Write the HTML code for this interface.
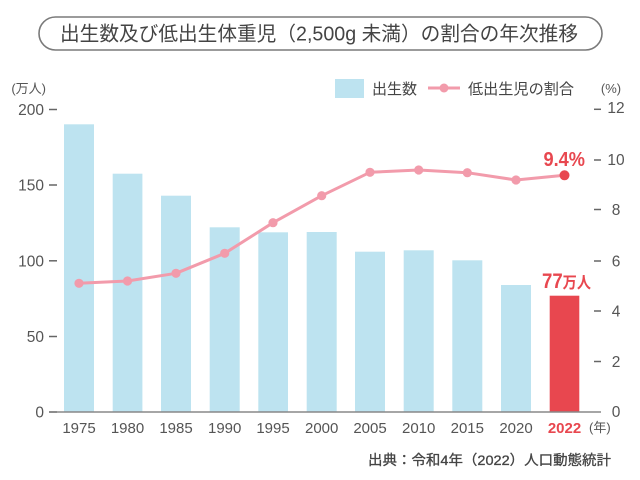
<!DOCTYPE html>
<html><head><meta charset="utf-8"><style>
html,body{margin:0;padding:0;background:#fff;}
svg{display:block;}
text{font-family:"Liberation Sans","Noto Sans CJK JP",sans-serif;}
</style></head><body>
<svg width="640" height="480" viewBox="0 0 640 480" xmlns="http://www.w3.org/2000/svg">
<rect x="0" y="0" width="640" height="480" fill="#fff"/>
<!-- title -->
<rect x="39" y="17" width="563" height="33" rx="16.5" ry="16.5" fill="#fff" stroke="#7a7a7a" stroke-width="1.6"/>
<text x="60" y="40.5" font-size="20" fill="#444" textLength="518" lengthAdjust="spacingAndGlyphs">出生数及び低出生体重児（2,500g 未満）の割合の年次推移</text>

<!-- axis unit labels -->
<text x="46" y="93" font-size="13" fill="#555" text-anchor="end">(万人)</text>
<text x="611" y="93" font-size="13" fill="#555" text-anchor="middle">(%)</text>

<!-- legend -->
<rect x="335" y="79" width="29" height="19" fill="#bde3f0"/>
<text x="372" y="94" font-size="15" fill="#444" textLength="45" lengthAdjust="spacingAndGlyphs">出生数</text>
<line x1="428" y1="88" x2="460" y2="88" stroke="#f29bab" stroke-width="3"/>
<circle cx="444" cy="88" r="4.5" fill="#f29bab"/>
<text x="468" y="94" font-size="15" fill="#444" textLength="106" lengthAdjust="spacingAndGlyphs">低出生児の割合</text>

<!-- left axis ticks & labels -->
<g stroke="#666" stroke-width="1.5">
<line x1="49" y1="109.5" x2="57" y2="109.5"/>
<line x1="49" y1="185" x2="57" y2="185"/>
<line x1="49" y1="260.8" x2="57" y2="260.8"/>
<line x1="49" y1="336.5" x2="57" y2="336.5"/>
<line x1="49" y1="412" x2="57" y2="412"/>
</g>
<g font-size="15.5" fill="#555" text-anchor="end">
<text x="44" y="115">200</text>
<text x="44" y="190.5">150</text>
<text x="44" y="266.3">100</text>
<text x="44" y="342">50</text>
<text x="44" y="417.5">0</text>
</g>

<!-- right axis ticks & labels -->
<g stroke="#666" stroke-width="1.5">
<line x1="594" y1="109.3" x2="601" y2="109.3"/>
<line x1="594" y1="160" x2="601" y2="160"/>
<line x1="594" y1="209.5" x2="601" y2="209.5"/>
<line x1="594" y1="261" x2="601" y2="261"/>
<line x1="594" y1="311" x2="601" y2="311"/>
<line x1="594" y1="361.5" x2="601" y2="361.5"/>
</g>
<g font-size="15.5" fill="#555" text-anchor="middle">
<text x="616" y="113">12</text>
<text x="616" y="165">10</text>
<text x="616" y="215">8</text>
<text x="616" y="266.5">6</text>
<text x="616" y="316.5">4</text>
<text x="616" y="367">2</text>
<text x="616" y="417">0</text>
</g>

<!-- bars -->
<g fill="#bde3f0">
<rect x="64" y="124.3" width="30" height="287.7"/>
<rect x="112.7" y="173.7" width="29.7" height="238.3"/>
<rect x="161" y="195.7" width="30" height="216.3"/>
<rect x="209.7" y="227.3" width="30" height="184.7"/>
<rect x="258.3" y="232.3" width="29.7" height="179.7"/>
<rect x="306.7" y="232" width="30" height="180"/>
<rect x="355" y="251.7" width="30" height="160.3"/>
<rect x="403.7" y="250.3" width="30" height="161.7"/>
<rect x="452.3" y="260.3" width="30" height="151.7"/>
<rect x="501" y="285" width="30" height="127"/>
</g>
<rect x="549.7" y="295.7" width="29.6" height="116.3" fill="#e8474f"/>

<!-- baseline -->
<line x1="57" y1="412" x2="601" y2="412" stroke="#888" stroke-width="1.5"/>

<!-- line series -->
<polyline fill="none" stroke="#f29bab" stroke-width="3" stroke-linejoin="round"
points="79,283.3 127.5,281 176,273.3 224.7,253.3 273,222.7 321.7,195.7 370,172.3 418.7,170 467.3,172.7 516,180 564.5,175.3"/>
<g fill="#f29bab">
<circle cx="79" cy="283.3" r="4.6"/>
<circle cx="127.5" cy="281" r="4.6"/>
<circle cx="176" cy="273.3" r="4.6"/>
<circle cx="224.7" cy="253.3" r="4.6"/>
<circle cx="273" cy="222.7" r="4.6"/>
<circle cx="321.7" cy="195.7" r="4.6"/>
<circle cx="370" cy="172.3" r="4.6"/>
<circle cx="418.7" cy="170" r="4.6"/>
<circle cx="467.3" cy="172.7" r="4.6"/>
<circle cx="516" cy="180" r="4.6"/>
</g>
<circle cx="564.5" cy="175.3" r="5" fill="#e8474f"/>

<!-- annotations -->
<text x="543.5" y="166" font-size="20" font-weight="bold" fill="#e8474f" textLength="41.5" lengthAdjust="spacingAndGlyphs">9.4%</text>
<text x="542" y="288" fill="#e8474f" font-weight="bold" textLength="49" lengthAdjust="spacingAndGlyphs"><tspan font-size="21">77</tspan><tspan font-size="16">万人</tspan></text>

<!-- x labels -->
<g font-size="15" fill="#555" text-anchor="middle">
<text x="79" y="433">1975</text>
<text x="127.5" y="433">1980</text>
<text x="176" y="433">1985</text>
<text x="224.7" y="433">1990</text>
<text x="273" y="433">1995</text>
<text x="321.7" y="433">2000</text>
<text x="370" y="433">2005</text>
<text x="418.7" y="433">2010</text>
<text x="467.3" y="433">2015</text>
<text x="516" y="433">2020</text>
</g>
<text x="564.5" y="433" font-size="15" font-weight="bold" fill="#e8474f" text-anchor="middle">2022</text>
<text x="589" y="432" font-size="13" fill="#555">(年)</text>

<!-- source -->
<text x="368" y="465" font-size="14" fill="#444" textLength="243" lengthAdjust="spacingAndGlyphs" stroke="#444" stroke-width="0.3">出典：令和4年（2022）人口動態統計</text>
</svg>
</body></html>
